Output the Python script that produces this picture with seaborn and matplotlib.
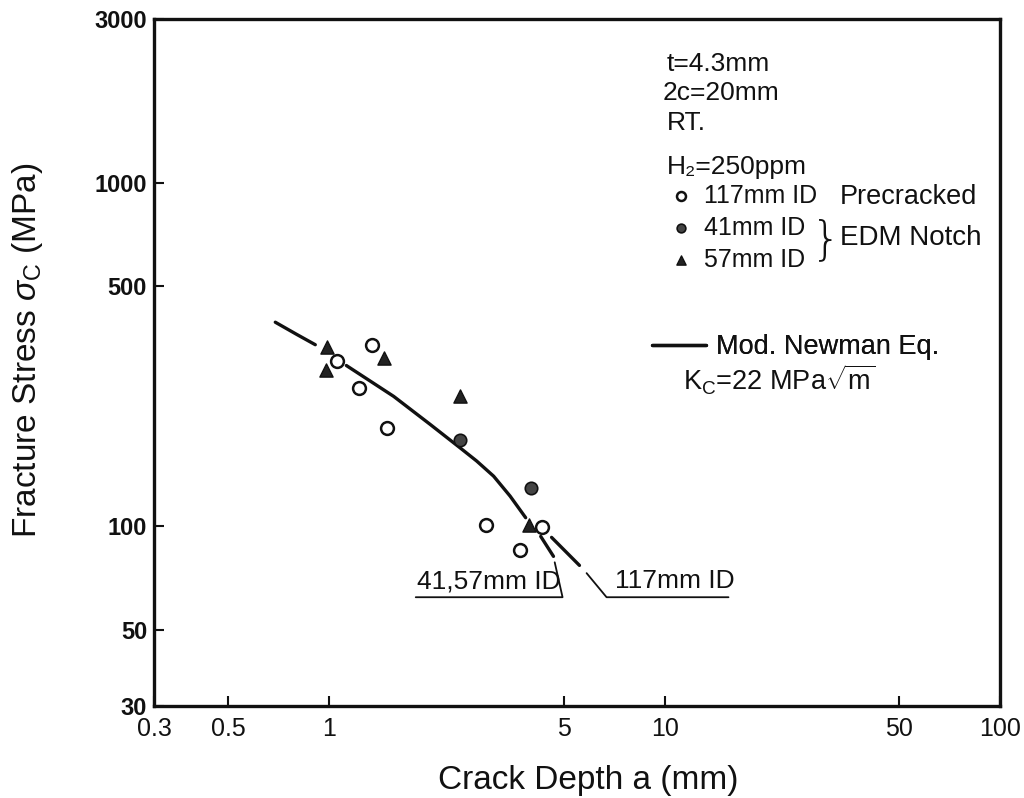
import numpy as np
import pandas as pd
import matplotlib
matplotlib.use("Agg")
import matplotlib.pyplot as plt
import seaborn as sns
from matplotlib import font_manager as fm
from matplotlib.lines import Line2D
from matplotlib.ticker import NullLocator

# ---------------- data ----------------
pre117_a = [1.054, 1.34, 1.23, 1.49, 2.93, 4.31, 3.70]
pre117_s = [304, 337, 253, 194, 101, 99.5, 85.3]
edm41_a = [2.46, 4.0]
edm41_s = [179, 129]
edm57_a = [0.984, 0.98, 1.46, 2.46, 3.94]
edm57_s = [332, 286, 310, 240, 100.7]

# Modified Newman equation curve (41,57mm ID branch), drawn in segments
newman_a = [0.69, 0.80, 0.908, 1.124, 1.30, 1.556, 2.0, 2.46, 2.75, 3.09, 3.46, 3.85, 4.27, 4.66]
newman_s = [393, 362, 338, 294, 268, 239, 198, 169, 155, 140, 122.5, 106, 93.5, 81.8]
newman_seg = [0, 0, 0, 1, 1, 1, 1, 1, 1, 1, 1, 1, 2, 2]
# 117mm ID branch (continuation)
newman117_a = [4.6, 5.57]
newman117_s = [92.9, 77.0]

x_ticks = [0.3, 0.5, 1, 5, 10, 50, 100]
x_ticklabels = ["0.3", "0.5", "1", "5", "10", "50", "100"]
y_ticks = [30, 50, 100, 500, 1000, 3000]
y_ticklabels = ["30", "50", "100", "500", "1000", "3000"]

# ---------------- style ----------------
sns.set_theme(style="ticks")
avail = {f.name for f in fm.fontManager.ttflist}
sans = "Liberation Sans" if "Liberation Sans" in avail else "DejaVu Sans"
ink = "#111111"
plt.rcParams["font.family"] = [sans, "DejaVu Sans"]
plt.rcParams["text.color"] = ink
plt.rcParams["mathtext.fontset"] = "custom"
plt.rcParams["mathtext.rm"] = sans
plt.rcParams["mathtext.it"] = sans + ":italic"
plt.rcParams["mathtext.sf"] = sans
plt.rcParams["axes.linewidth"] = 2.4

W, H = 1024, 798
L, R, T_, B = 154, 1000, 19, 706
fig = plt.figure(figsize=(W / 100, H / 100), dpi=100)
ax = fig.add_axes([L / W, 1 - B / H, (R - L) / W, (B - T_) / H])
ax.set_xscale("log")
ax.set_yscale("log")

# curve
df_curve = pd.DataFrame({"a": newman_a, "s": newman_s, "seg": newman_seg})
sns.lineplot(data=df_curve, x="a", y="s", units="seg", estimator=None, sort=False,
             color=ink, linewidth=2.4, ax=ax, zorder=2)
sns.lineplot(x=newman117_a, y=newman117_s, color=ink, linewidth=2.4, ax=ax, zorder=2)

# points
sns.scatterplot(x=pre117_a, y=pre117_s, marker="o", s=85, facecolor="white",
                edgecolor=ink, linewidth=1.8, ax=ax, zorder=4, label="117mm ID")
sns.scatterplot(x=edm41_a, y=edm41_s, marker="o", s=80, facecolor="#444444",
                edgecolor=ink, linewidth=1.2, ax=ax, zorder=4, label="41mm ID")
sns.scatterplot(x=edm57_a, y=edm57_s, marker="^", s=90, facecolor="#222222",
                edgecolor=ink, linewidth=1.0, ax=ax, zorder=4, label="57mm ID")

ax.set_xlim(0.3, 100)
ax.set_ylim(30, 3000)
ax.set_xticks(x_ticks)
ax.set_xticklabels(x_ticklabels, fontsize=18)
ax.set_yticks(y_ticks)
ax.set_yticklabels(y_ticklabels, fontweight="bold", fontsize=17)
ax.xaxis.set_minor_locator(NullLocator())
ax.yaxis.set_minor_locator(NullLocator())
ax.tick_params(axis="both", direction="in", length=7, width=1.5, colors=ink)
ax.tick_params(axis="x", pad=8)
ax.tick_params(axis="y", pad=5)
for sp in ax.spines.values():
    sp.set_visible(True)
    sp.set_color(ink)

def fx(px):
    return (px - L) / (R - L)

def fy(py):
    return (B - py) / (B - T_)

ax.set_xlabel("Crack Depth a (mm)", fontsize=24, color=ink)
ax.set_ylabel(r"Fracture Stress $\sigma_\mathrm{C}$ (MPa)", fontsize=24, color=ink)
ax.xaxis.set_label_coords(fx(588), fy(780))
ax.xaxis.label.set_va("center")
ax.yaxis.set_label_coords(fx(28), fy(350))
ax.yaxis.label.set_va("center")

# legend for specimens
h, l = ax.get_legend_handles_labels()
leg1 = ax.legend(h, l, loc="center left", bbox_to_anchor=(fx(668), fy(228)), frameon=False,
                 borderpad=0, borderaxespad=0, handlelength=1.0, handletextpad=0.45,
                 labelspacing=0.32, markerscale=0.7, labelcolor=ink,
                 prop={"family": sans, "size": 18})
ax.add_artist(leg1)

# legend for curve
leg2 = ax.legend([Line2D([], [], color=ink, linewidth=2.4)], ["Mod. Newman Eq."],
                 loc="center left", bbox_to_anchor=(fx(652), fy(347)), frameon=False,
                 borderpad=0, borderaxespad=0, handlelength=2.0, handletextpad=0.35,
                 labelcolor=ink, prop={"family": sans, "size": 19.5})
ax.add_artist(leg2)

Tr = ax.transAxes
ax.text(fx(667), fy(64), "t=4.3mm", transform=Tr, va="center", ha="left",
        fontsize=19, color=ink)
ax.text(fx(663), fy(93), "2c=20mm", transform=Tr, va="center", ha="left",
        fontsize=19, color=ink)
ax.text(fx(667), fy(123), "RT.", transform=Tr, va="center", ha="left",
        fontsize=19, color=ink)
ax.text(fx(667), fy(167), "H₂=250ppm", transform=Tr, va="center", ha="left",
        fontsize=19, color=ink)
ax.text(fx(840), fy(197), "Precracked", transform=Tr, va="center", ha="left",
        fontsize=19.5, color=ink)
ax.text(fx(826), fy(240), "}", transform=Tr, va="center", ha="center",
        fontfamily="DejaVu Sans", fontweight="light", fontsize=34, color=ink)
ax.text(fx(840), fy(238), "EDM Notch", transform=Tr, va="center", ha="left",
        fontsize=20, color=ink)
ax.text(fx(683), fy(380), r"K$_\mathrm{C}$=22 MPa$\sqrt{\mathrm{m}}$", transform=Tr,
        va="center", ha="left", fontsize=19.5, color=ink)

# branch labels with leader lines
ax.plot([1.81, 4.96, 4.7], [62.2, 62.2, 78.6], color=ink, linewidth=1.3)
ax.text(fx(417), fy(581), "41,57mm ID", transform=Tr, va="center", ha="left",
        fontsize=19, color=ink)
ax.plot([15.5, 6.71, 5.85], [62.2, 62.2, 73.1], color=ink, linewidth=1.3)
ax.text(fx(615), fy(581), "117mm ID", transform=Tr, va="center", ha="left",
        fontsize=19, color=ink)

fig.savefig("out.png", dpi=100, facecolor="white")
